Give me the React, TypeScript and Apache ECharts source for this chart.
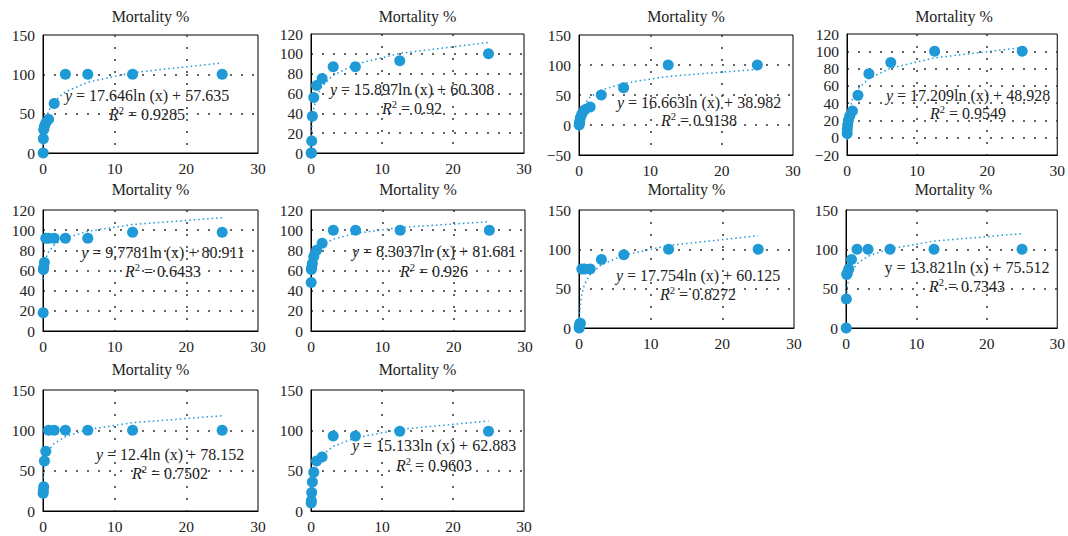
import React, { useEffect, useRef } from "react";
import * as echarts from "echarts";

// Concentrations (x) shared by every panel
const X = [0.024, 0.049, 0.098, 0.195, 0.39, 0.78, 1.5625, 3.125, 6.25, 12.5, 25];

// Mortality % per panel
const Y1 = [0, 18, 30, 34, 38, 43, 63, 100, 100, 100, 100];
const Y2 = [0, 0, 12, 37, 56, 68, 75, 87, 87, 93, 100];
const Y3 = [0, 3, 6, 12, 18, 25, 30, 50, 62, 100, 100];
const Y4 = [5, 10, 15, 20, 25, 31, 49, 74, 87, 100, 100];
const Y5 = [18, 61, 63, 68, 92, 92, 92, 92, 92, 98, 98];
const Y6 = [48, 61, 63, 67, 74, 80, 87, 100, 100, 100, 100];
const Y7 = [0, 2, 5, 6, 75, 75, 75, 87, 93, 100, 100];
const Y8 = [0, 37, 68, 70, 75, 87, 100, 100, 100, 100, 100];
const Y9 = [22, 25, 30, 62, 74, 100, 100, 100, 100, 100, 100];
const Y10 = [10, 13, 23, 36, 48, 62, 67, 93, 93, 99, 99];
const SERIES_Y = [Y1, Y2, Y3, Y4, Y5, Y6, Y7, Y8, Y9, Y10];

// Logarithmic trendline coefficients: y = A ln(x) + B
const COEF_A = [17.646, 15.897, 16.663, 17.209, 9.7781, 8.3037, 17.754, 13.821, 12.4, 15.133];
const COEF_B = [57.635, 60.308, 38.982, 48.928, 80.911, 81.681, 60.125, 75.512, 78.152, 62.883];
const R_SQUARED = [0.9285, 0.92, 0.9138, 0.9549, 0.6433, 0.926, 0.8272, 0.7343, 0.7502, 0.9603];
const TREND_X = [0.049, 0.098, 0.195, 0.39, 0.78, 1.5625, 3.125, 6.25, 12.5, 25];

// Axes
const TITLE = "Mortality %";
const X_MIN = 0;
const X_MAX = 30;
const X_STEP = 10;
const Y_MIN = [0, 0, -50, -20, 0, 0, 0, 0, 0, 0];
const Y_MAX = [150, 120, 150, 120, 120, 120, 150, 150, 150, 150];
const Y_STEP = [50, 20, 50, 20, 20, 20, 50, 50, 50, 50];

// Layout (pixels): plot area left, top, width, height
const GRIDS = [
  [43, 35, 215, 118],
  [311, 34, 213, 119],
  [579, 35, 214, 120],
  [847, 34, 214, 121],
  [43, 210, 215, 121],
  [311, 210, 214, 121],
  [579, 210, 215, 118],
  [846, 210, 215, 118],
  [43, 390, 215, 121],
  [311, 390, 213, 121],
];
const TITLE_Y = [16, 16, 16, 16, 189, 189, 189, 189, 369, 369];
// equation label centres [x, yEq, yR2]
const EQ_POS = [
  [147, 95, 114],
  [412, 89, 108],
  [699, 102, 120],
  [968, 95, 113],
  [163, 252, 271],
  [434, 251, 271],
  [698, 275, 294],
  [967, 267, 286],
  [170, 454, 473],
  [434, 445, 465],
];
const ITALIC_Y = [true, true, true, true, true, true, true, false, true, true];

const FONT = "'Liberation Serif', 'DejaVu Serif', serif";
const BLUE = "#1f9ad6";
const TEXT = "#222";
const TICK_SIZE = 15.5;
const TITLE_SIZE = 16;
const EQ_SIZE = 16;

function buildOption() {
  const grid: any[] = [];
  const xAxis: any[] = [];
  const yAxis: any[] = [];
  const series: any[] = [];
  const graphic: any[] = [];

  GRIDS.forEach((g, i) => {
    grid.push({
      left: g[0],
      top: g[1],
      width: g[2],
      height: g[3],
      show: true,
      borderColor: "#000",
      borderWidth: 1,
      backgroundColor: "transparent",
      containLabel: false,
    });
    xAxis.push({
      type: "value",
      gridIndex: i,
      min: X_MIN,
      max: X_MAX,
      interval: X_STEP,
      axisLine: { show: true, onZero: false, lineStyle: { color: "#000", width: 1 } },
      axisTick: { show: false },
      axisLabel: { color: TEXT, fontFamily: FONT, fontSize: TICK_SIZE, margin: 7 },
      splitLine: {
        show: true,
        showMinLine: false,
        showMaxLine: false,
        lineStyle: { color: "#333", type: [2, 10], width: 1.5 },
      },
    });
    yAxis.push({
      type: "value",
      gridIndex: i,
      min: Y_MIN[i],
      max: Y_MAX[i],
      interval: Y_STEP[i],
      axisLine: { show: true, onZero: false, lineStyle: { color: "#000", width: 1 } },
      axisTick: { show: false },
      axisLabel: {
        color: TEXT,
        fontFamily: FONT,
        fontSize: TICK_SIZE,
        margin: 8,
        formatter: (v: number) => String(v).replace("-", "\u2212"),
      },
      splitLine: {
        show: true,
        showMinLine: false,
        showMaxLine: false,
        lineStyle: { color: "#333", type: [2, 9], width: 1.5 },
      },
    });
    series.push({
      type: "scatter",
      xAxisIndex: i,
      yAxisIndex: i,
      symbolSize: 11,
      itemStyle: { color: BLUE, opacity: 1 },
      data: X.map((x, j) => [x, SERIES_Y[i][j]]),
      z: 3,
    });
    series.push({
      type: "line",
      xAxisIndex: i,
      yAxisIndex: i,
      showSymbol: false,
      symbol: "none",
      smooth: false,
      lineStyle: { color: BLUE, width: 1.5, type: [1.5, 3] },
      data: TREND_X.map((x) => [x, COEF_A[i] * Math.log(x) + COEF_B[i]]),
      z: 4,
    });

    const cx = g[0] + g[2] / 2;
    graphic.push({
      type: "text",
      x: cx,
      y: TITLE_Y[i],
      style: {
        text: TITLE,
        font: `${TITLE_SIZE}px ${FONT}`,
        fill: TEXT,
        align: "center",
        textAlign: "center",
        verticalAlign: "middle",
        textVerticalAlign: "middle",
      },
      z: 10,
    });
    const yPart = ITALIC_Y[i] ? "{i|y}" : "{n|y}";
    graphic.push({
      type: "text",
      x: EQ_POS[i][0],
      y: EQ_POS[i][1],
      style: {
        text: `${yPart}{n| = ${COEF_A[i]}ln (x) + ${COEF_B[i]}}`,
        font: `${EQ_SIZE}px ${FONT}`,
        fill: TEXT,
        align: "center",
        textAlign: "center",
        verticalAlign: "middle",
        textVerticalAlign: "middle",
        rich: {
          i: { fontStyle: "italic", fontSize: EQ_SIZE, fontFamily: FONT, fill: TEXT, color: TEXT },
          n: { fontSize: EQ_SIZE, fontFamily: FONT, fill: TEXT, color: TEXT },
        },
      },
      z: 10,
    });
    graphic.push({
      type: "text",
      x: EQ_POS[i][0],
      y: EQ_POS[i][2],
      style: {
        text: `{i|R}{s|2}{n| = ${R_SQUARED[i]}}`,
        font: `${EQ_SIZE}px ${FONT}`,
        fill: TEXT,
        align: "center",
        textAlign: "center",
        verticalAlign: "middle",
        textVerticalAlign: "middle",
        rich: {
          i: { fontStyle: "italic", fontSize: EQ_SIZE, fontFamily: FONT, fill: TEXT, color: TEXT, lineHeight: 19 },
          s: { fontSize: 10.5, fontFamily: FONT, fill: TEXT, color: TEXT, verticalAlign: "top", lineHeight: 19, padding: [0, 0, 6, 0] },
          n: { fontSize: EQ_SIZE, fontFamily: FONT, fill: TEXT, color: TEXT, lineHeight: 19 },
        },
      },
      z: 10,
    });
  });

  return {
    animation: false,
    backgroundColor: "#fff",
    grid,
    xAxis,
    yAxis,
    series,
    graphic,
  };
}

export default function App() {
  const ref = useRef<HTMLDivElement>(null);
  useEffect(() => {
    if (!ref.current) return;
    const chart = echarts.init(ref.current, null, { renderer: "svg" });
    chart.setOption(buildOption() as any);
    return () => chart.dispose();
  }, []);
  return (
    <div
      ref={ref}
      style={{ position: "absolute", left: 0, top: 0, width: 1068, height: 536, background: "#fff" }}
    />
  );
}
